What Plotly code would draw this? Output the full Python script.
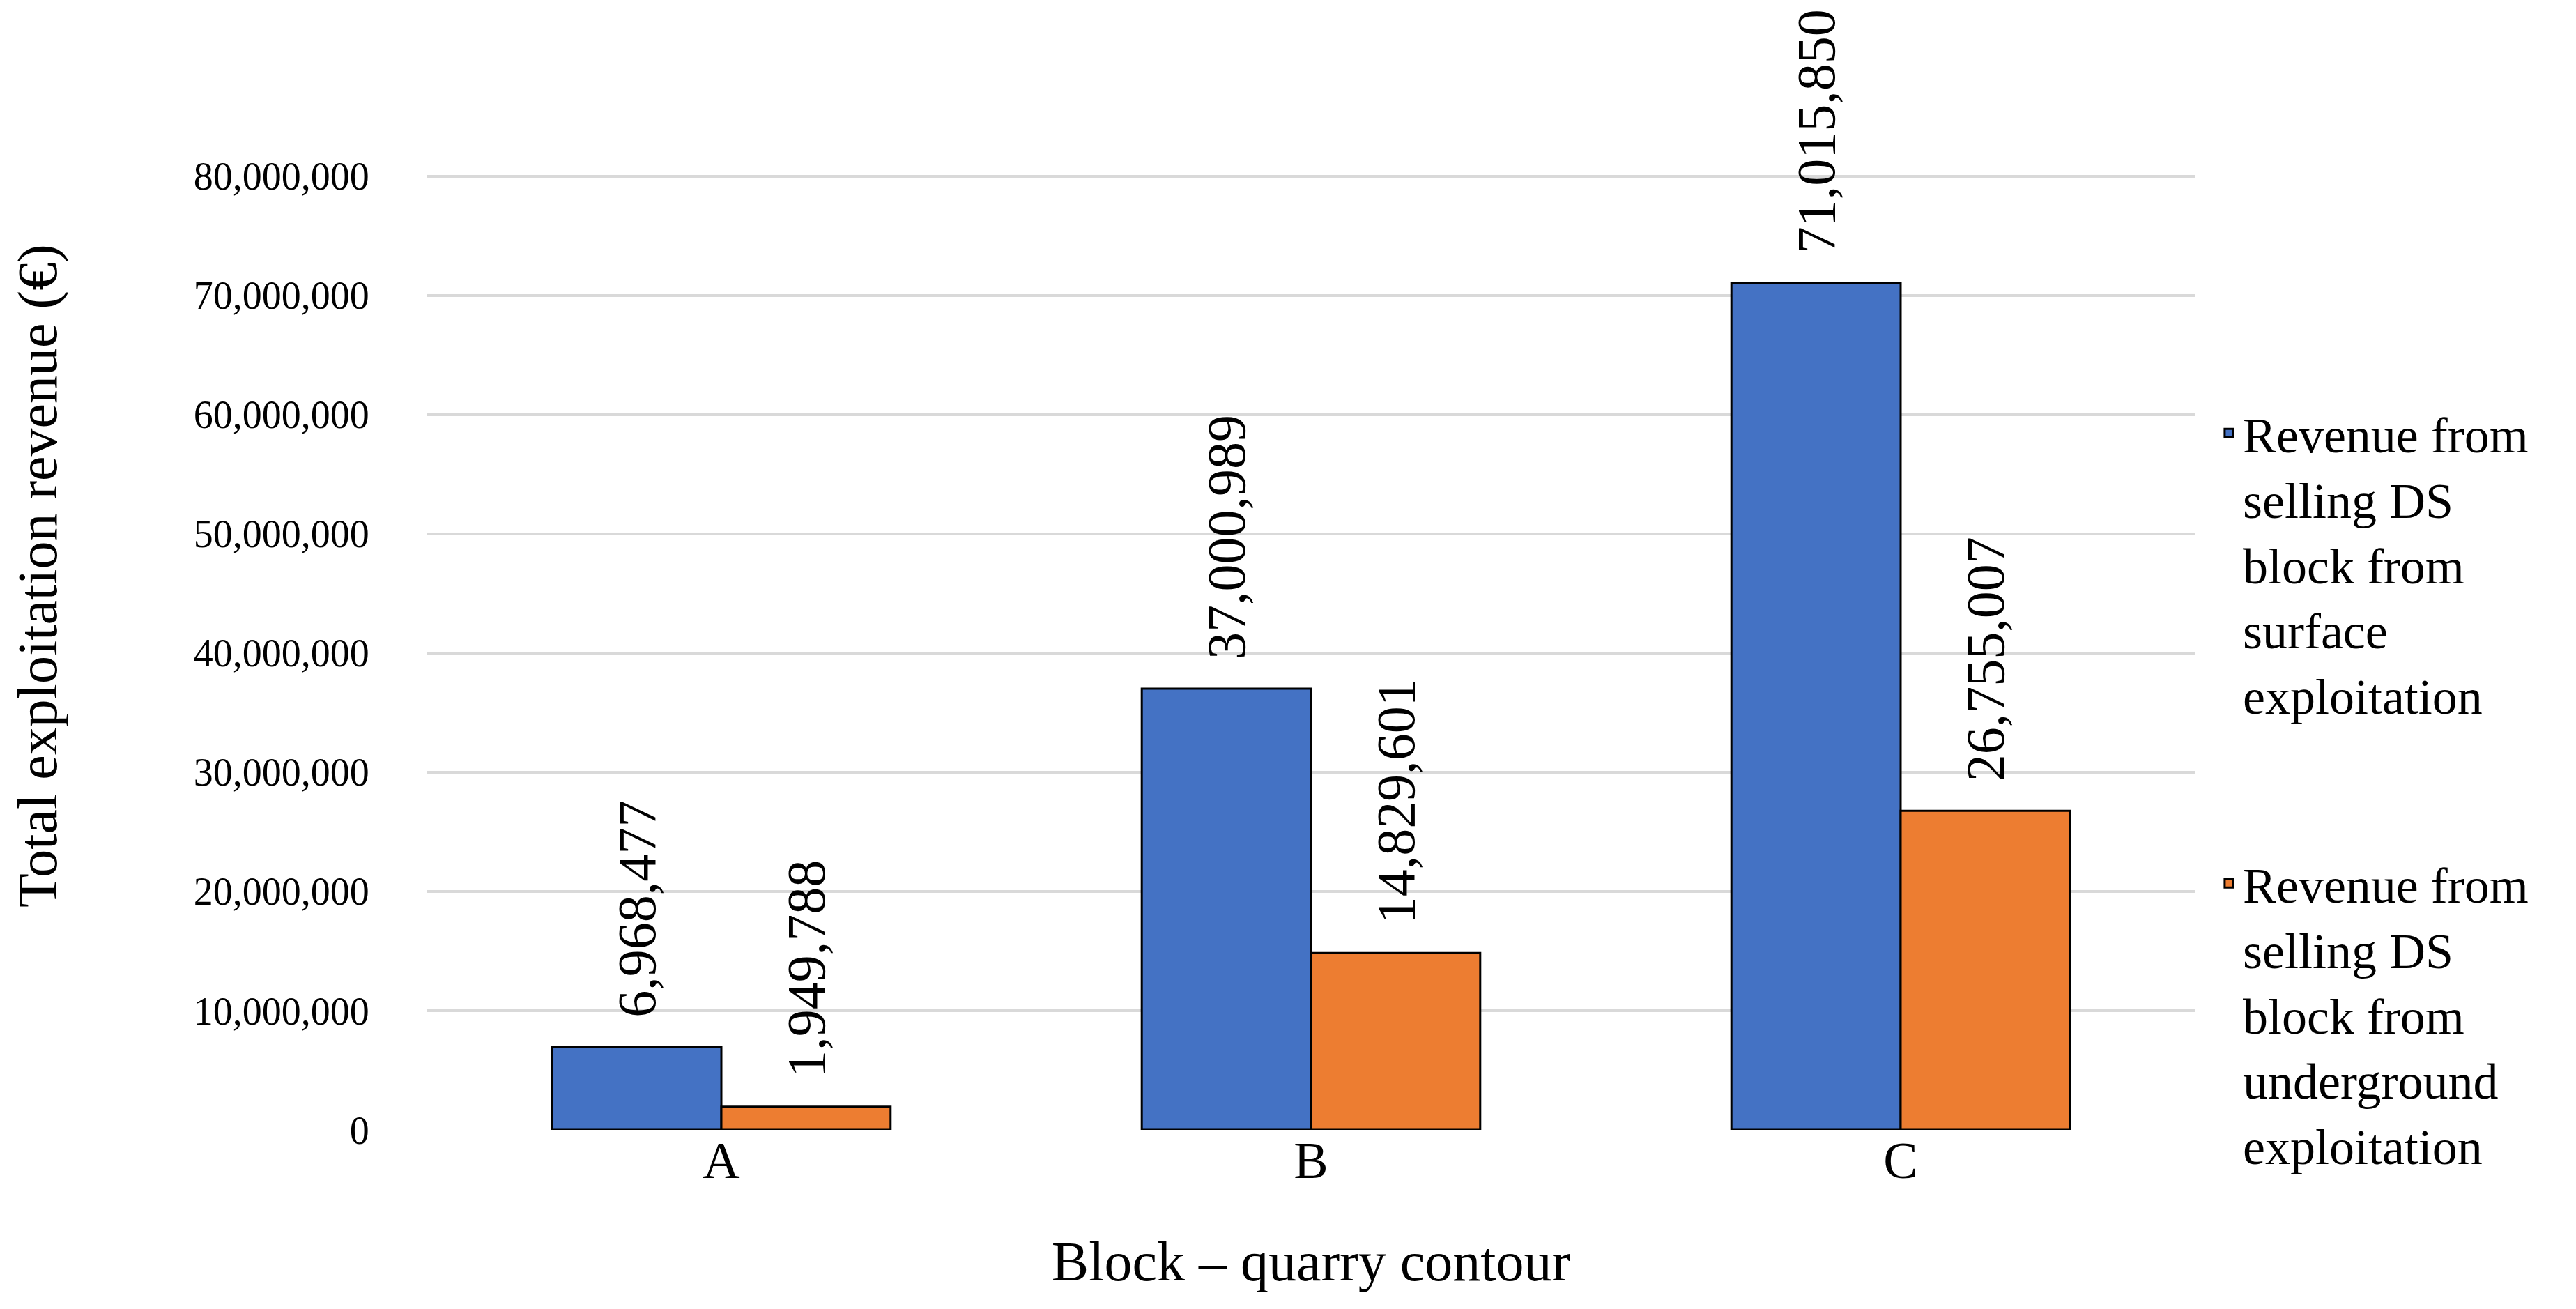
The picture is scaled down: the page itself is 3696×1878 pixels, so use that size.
import plotly.graph_objects as go

categories = ["A", "B", "C"]
surface = [6968477, 37000989, 71015850]
underground = [1949788, 14829601, 26755007]
series_names = [
    "Revenue from<br>selling DS<br>block from<br>surface<br>exploitation",
    "Revenue from<br>selling DS<br>block from<br>underground<br>exploitation",
]
colors = ["#4472C4", "#ED7D31"]
y_ticks = [0, 10000000, 20000000, 30000000, 40000000, 50000000, 60000000, 70000000, 80000000]
y_title = "Total exploitation revenue (€)"
x_title = "Block – quarry contour"

FONT = "Liberation Serif"
W, H = 3696, 1878

fig = go.Figure()
for i, (vals, name) in enumerate([(surface, series_names[0]), (underground, series_names[1])]):
    fig.add_trace(go.Bar(
        x=categories, y=vals, name=name, legendgroup=f"g{i}",
        marker=dict(color=colors[i], line=dict(color="#000000", width=3)),
        text=["\u00a0\u00a0" + f"{v:,}" for v in vals],
        textposition="outside", textangle=-90, cliponaxis=False,
        constraintext="none",
        textfont=dict(family=FONT, size=78, color="#000000"),
    ))

fig.update_layout(
    width=W, height=H,
    margin=dict(l=604, r=554, t=242, b=265),
    paper_bgcolor="white", plot_bgcolor="white",
    barmode="group", bargap=0.426, bargroupgap=0,
    font=dict(family=FONT, size=72, color="#000000"),
    showlegend=True,
    legend=dict(
        x=1.011, xanchor="left", y=0.768, yanchor="top",
        font=dict(family=FONT, size=72, color="#000000"),
        tracegroupgap=175, valign="top", itemwidth=30,
        bgcolor="rgba(0,0,0,0)",
    ),
    annotations=[dict(
        text=y_title, textangle=-90, showarrow=False,
        xref="paper", yref="paper", x=-0.2194, y=0.58,
        xanchor="center", yanchor="middle",
        font=dict(family=FONT, size=80, color="#000000"),
    )],
)
fig.update_yaxes(
    range=[0, 80150000], tickvals=y_ticks, tickformat=",",
    showgrid=True, gridcolor="#D9D9D9", gridwidth=4,
    zeroline=False, showline=False,
    ticks="outside", ticklen=70, tickcolor="rgba(0,0,0,0)",
    tickfont=dict(family=FONT, size=56, color="#000000"),
    automargin=False,
)
fig.update_xaxes(
    showgrid=False, showline=False, zeroline=False,
    ticks="", ticklabelstandoff=-6,
    tickfont=dict(family=FONT, size=74, color="#000000"),
    title=dict(text=x_title, standoff=75,
               font=dict(family=FONT, size=80, color="#000000")),
    automargin=False,
)

fig.write_html("out.html")
